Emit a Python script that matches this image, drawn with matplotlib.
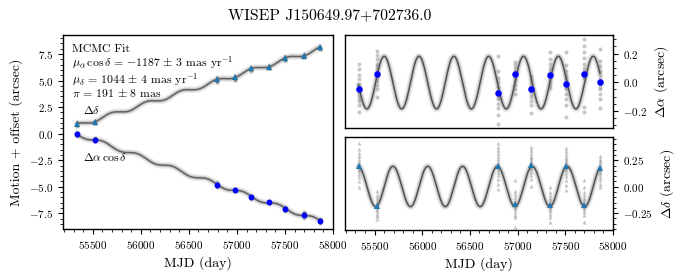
import numpy as np
import matplotlib
matplotlib.use("Agg")
import matplotlib.pyplot as plt
from matplotlib.ticker import AutoMinorLocator, MultipleLocator

plt.rcParams['font.family'] = 'serif'
plt.rcParams['font.serif'] = ['cmr10']
plt.rcParams['mathtext.fontset'] = 'cm'
plt.rcParams['axes.formatter.use_mathtext'] = True
plt.rcParams['axes.unicode_minus'] = True

# ---------------- data ----------------
title = "WISEP J150649.97+702736.0"
ra_deg, dec_deg = 226.708, 70.460          # target position (from designation)
pm_ra_mas, pm_dec_mas, plx_mas = -1187.0, 1044.0, 191.0   # MCMC fit values
epochs = [55332, 55521, 56789, 56977, 57145, 57337, 57505, 57700, 57862]   # MJD
ra_resid = [-0.05, 0.056, -0.075, 0.056, -0.044, 0.049, -0.009, 0.054, 0.003]  # arcsec
dec_resid = [0.197, -0.187, 0.20, -0.16, 0.209, -0.171, 0.197, -0.171, 0.178]  # arcsec
ra_offset, dec_offset = -0.01, 0.75        # offsets applied in the left panel

ra_frames = [
    [0.13, 0.09, 0.05, 0.02, -0.01, -0.03, -0.05, -0.07, -0.09, -0.11, -0.13, -0.16, -0.21],
    [0.22, 0.19, 0.16, 0.13, 0.11, 0.09, 0.07, 0.05, 0.03, 0.01, -0.02, -0.05, -0.10],
    [0.18, 0.08, 0.03, 0.0, -0.03, -0.06, -0.08, -0.10, -0.12, -0.15, -0.18, -0.23, -0.295],
    [0.14, 0.12, 0.10, 0.08, 0.06, 0.05, 0.03, 0.01, -0.02, -0.05, -0.08],
    [0.04, 0.02, 0.0, -0.02, -0.04, -0.06, -0.08, -0.10, -0.13, -0.16, -0.215],
    [0.21, 0.16, 0.13, 0.10, 0.08, 0.06, 0.04, 0.02, 0.0, -0.02, -0.04],
    [0.21, 0.12, 0.08, 0.05, 0.03, 0.01, -0.01, -0.03, -0.05, -0.08, -0.12, -0.16, -0.24],
    [0.30, 0.25, 0.21, 0.17, 0.13, 0.10, 0.08, 0.06, 0.04, 0.03, -0.17, -0.21],
    [0.23, 0.15, 0.11, 0.08, 0.05, 0.03, 0.01, -0.01, -0.03, -0.05, -0.08, -0.12, -0.18],
]
dec_frames = [
    [0.415, 0.36, 0.32, 0.29, 0.26, 0.23, 0.21, 0.19, 0.17, 0.15, 0.12, 0.09, 0.05, 0.0],
    [-0.04, -0.08, -0.11, -0.14, -0.17, -0.19, -0.21, -0.23, -0.26, -0.28, -0.31],
    [0.41, 0.38, 0.35, 0.32, 0.29, 0.26, 0.23, 0.21, 0.19, 0.17, 0.14, 0.11, 0.07, 0.03, -0.02],
    [0.067, -0.04, -0.07, -0.10, -0.13, -0.15, -0.17, -0.19, -0.21, -0.24, -0.27, -0.29, -0.377],
    [0.38, 0.35, 0.32, 0.29, 0.27, 0.25, 0.23, 0.21, 0.19, 0.17, 0.14, 0.11, 0.07, 0.003],
    [0.0, -0.05, -0.08, -0.11, -0.13, -0.15, -0.17, -0.19, -0.21, -0.23, -0.26, -0.29, -0.33],
    [0.37, 0.34, 0.31, 0.28, 0.26, 0.24, 0.22, 0.20, 0.18, 0.16, 0.13, 0.10, 0.06, 0.02, -0.035],
    [0.067, 0.0, -0.05, -0.08, -0.11, -0.13, -0.15, -0.17, -0.19, -0.21, -0.24, -0.27, -0.336],
    [0.29, 0.26, 0.24, 0.22, 0.20, 0.18, 0.16, 0.14, 0.12, 0.09, 0.06, 0.03, 0.0],
]
fit_lines = [
    'MCMC Fit',
    r'$\mu_\alpha\,\cos\delta \,=\, {-1187} \,\pm\, 3$ mas yr$^{-1}$',
    r'$\mu_\delta \,=\, 1044 \,\pm\, 4$ mas yr$^{-1}$',
    r'$\pi \,=\, 191 \,\pm\, 8$ mas',
]

# ---------------- astrometric model ----------------
def parallax_factors(mjd):
    mjd = np.asarray(mjd, dtype=float)
    d = mjd - 51544.5
    g = np.radians(357.528 + 0.9856003 * d)
    lam = np.radians(280.460 + 0.9856474 * d + 1.915 * np.sin(g) + 0.020 * np.sin(2 * g))
    R = 1.00014 - 0.01671 * np.cos(g) - 0.00014 * np.cos(2 * g)
    eps = np.radians(23.439)
    xs = R * np.cos(lam)
    ys = R * np.cos(eps) * np.sin(lam)
    zs = R * np.sin(eps) * np.sin(lam)
    a, de = np.radians(ra_deg), np.radians(dec_deg)
    fa = -xs * np.sin(a) + ys * np.cos(a)
    fd = -xs * np.cos(a) * np.sin(de) - ys * np.sin(a) * np.sin(de) + zs * np.cos(de)
    return fa, fd

t0 = epochs[0]
def motion(mjd, pm_mas, off):
    return off + pm_mas / 1000.0 * (np.asarray(mjd, dtype=float) - t0) / 365.25

tm = np.linspace(epochs[0], epochs[-1], 3000)
fa, fd = parallax_factors(tm)
plx = plx_mas / 1000.0
ra_model_plx = plx * fa
dec_model_plx = plx * fd

# ---------------- figure ----------------
fig = plt.figure(figsize=(6.83, 2.8), dpi=100)
W, H = 683.0, 280.0
axL = fig.add_axes([63 / W, (H - 229) / H, 270 / W, 194 / H])
axT = fig.add_axes([345 / W, (H - 128) / H, 268 / W, 93 / H])
axB = fig.add_axes([345 / W, (H - 230) / H, 268 / W, 93 / H], sharex=axT)

gray_kw = dict(linestyle='none', color='0.45', alpha=0.4, markersize=2.9, markeredgewidth=0)

def draw_curve(ax, x, y, core='0.32'):
    ax.plot(x, y, color='0.5', lw=5.0, alpha=0.12, solid_capstyle='round', zorder=2)
    ax.plot(x, y, color='0.45', lw=3.0, alpha=0.28, solid_capstyle='round', zorder=2)
    ax.plot(x, y, color=core, lw=1.1, zorder=3)

# Left panel
for i, ep in enumerate(epochs):
    ra_pts = motion(ep, pm_ra_mas, ra_offset) + np.array(ra_frames[i])
    dec_pts = motion(ep, pm_dec_mas, dec_offset) + np.array(dec_frames[i])
    axL.plot([ep] * len(ra_pts), ra_pts, marker='o', zorder=1, **gray_kw)
    axL.plot([ep] * len(dec_pts), dec_pts, marker='^', zorder=1, **gray_kw)
draw_curve(axL, tm, motion(tm, pm_ra_mas, ra_offset) + ra_model_plx, core='0.38')
draw_curve(axL, tm, motion(tm, pm_dec_mas, dec_offset) + dec_model_plx, core='0.38')
axL.plot(epochs, motion(epochs, pm_ra_mas, ra_offset) + np.array(ra_resid), 'o',
         color='blue', markersize=4.2, markeredgewidth=0, zorder=4)
axL.plot(epochs, motion(epochs, pm_dec_mas, dec_offset) + np.array(dec_resid), '^',
         color='#1f77b4', markersize=4.6, markeredgewidth=0, zorder=4)

axL.set_xlim(55190, 58000)
axL.set_ylim(-8.98, 9.29)
axL.yaxis.set_major_locator(MultipleLocator(2.5))
axL.xaxis.set_major_locator(MultipleLocator(500))
axL.set_ylabel('Motion + offset (arcsec)', fontsize=10)
axL.set_xlabel('MJD (day)', fontsize=10)

axL.text(0.033, 0.952, '\n'.join(fit_lines), transform=axL.transAxes, fontsize=8.5,
         va='top', ha='left', linespacing=1.0)
axL.text(0.074, 0.613, r'$\Delta\delta$', transform=axL.transAxes, fontsize=8.5, va='center')
axL.text(0.074, 0.371, r'$\Delta\alpha\,\cos\delta$', transform=axL.transAxes, fontsize=8.5,
         va='center')

# Right panels (parallax residuals)
for i, ep in enumerate(epochs):
    axT.plot([ep] * len(ra_frames[i]), ra_frames[i], marker='o', zorder=1, **gray_kw)
    axB.plot([ep] * len(dec_frames[i]), dec_frames[i], marker='^', zorder=1, **gray_kw)
draw_curve(axT, tm, ra_model_plx)
draw_curve(axB, tm, dec_model_plx)
axT.plot(epochs, ra_resid, 'o', color='blue', markersize=4.7, markeredgewidth=0, zorder=4)
axB.plot(epochs, dec_resid, '^', color='#1f77b4', markersize=5.0, markeredgewidth=0, zorder=4)

axT.set_ylim(-0.32, 0.33)
axB.set_ylim(-0.41, 0.47)
axT.yaxis.set_major_locator(MultipleLocator(0.2))
axB.yaxis.set_major_locator(MultipleLocator(0.25))
axT.set_xlim(55190, 58000)
axB.xaxis.set_major_locator(MultipleLocator(500))

for ax in (axT, axB):
    ax.yaxis.tick_right()
    ax.yaxis.set_label_position('right')
axT.set_ylabel(r'$\Delta\alpha$ (arcsec)', fontsize=10)
axB.set_ylabel(r'$\Delta\delta$ (arcsec)', fontsize=10)
axB.set_xlabel('MJD (day)', fontsize=10)

for ax in (axL, axT, axB):
    ax.xaxis.set_minor_locator(AutoMinorLocator())
    ax.yaxis.set_minor_locator(AutoMinorLocator())
    ax.tick_params(which='major', labelsize=8, length=3.5, width=0.8, direction='out')
    ax.tick_params(which='minor', length=2, width=0.6, direction='out')
    for s in ax.spines.values():
        s.set_linewidth(1.0)
axT.tick_params(axis='x', which='both', bottom=False, labelbottom=False)

fig.text(0.482, 0.946, title, fontsize=11.3, ha='center', va='center')

fig.savefig('out.png', dpi=100)
